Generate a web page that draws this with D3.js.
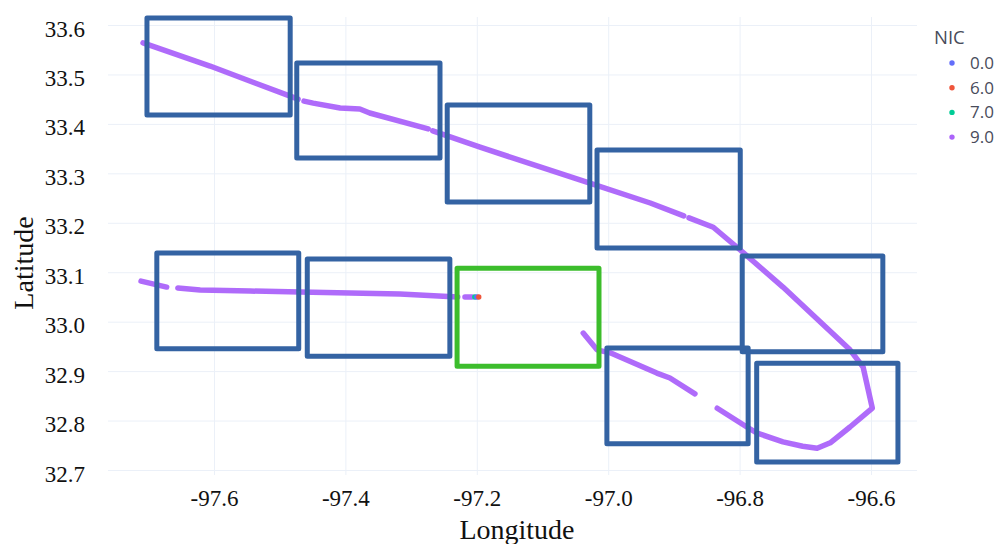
<!DOCTYPE html>
<html>
<head>
<meta charset="utf-8">
<script src="https://cdn.jsdelivr.net/npm/d3@7"></script>
<style>
  html, body { margin: 0; padding: 0; background: #fff; }
  svg { display: block; }
</style>
</head>
<body>
<svg id="chart" width="1005" height="544"></svg>
<script>
// Flight track (lon, lat) pieces; breaks mark missing reports
const northLeg1 = [[-97.708, 33.564], [-97.606, 33.517], [-97.480, 33.454], [-97.472, 33.450]];
const northLeg2 = [[-97.463, 33.446], [-97.449, 33.442], [-97.408, 33.432], [-97.378, 33.430],
                   [-97.363, 33.422], [-97.274, 33.390]];
const northLeg3 = [[-97.267, 33.386], [-97.195, 33.353], [-97.028, 33.280], [-96.936, 33.240],
                   [-96.885, 33.214]];
const eastLeg = [[-96.877, 33.210], [-96.840, 33.191], [-96.799, 33.145], [-96.734, 33.070],
                 [-96.632, 32.943], [-96.612, 32.908], [-96.598, 32.825], [-96.632, 32.787],
                 [-96.662, 32.755], [-96.682, 32.744], [-96.704, 32.748], [-96.734, 32.757],
                 [-96.774, 32.775], [-96.789, 32.787], [-96.834, 32.825]];
const returnLeg = [[-96.868, 32.854], [-96.906, 32.886], [-96.926, 32.896], [-96.997, 32.937],
                   [-97.017, 32.943], [-97.038, 32.977]];
const westLeg1 = [[-97.711, 33.082], [-97.672, 33.070]];
const westLeg2 = [[-97.655, 33.068], [-97.621, 33.064], [-97.545, 33.062], [-97.469, 33.060],
                  [-97.317, 33.056], [-97.229, 33.050]];
const westLeg3 = [[-97.218, 33.050], [-97.207, 33.050]];
const trackLegs = [northLeg1, northLeg2, northLeg3, eastLeg, returnLeg, westLeg1, westLeg2, westLeg3];
const trackNic = [9, 9, 9, 9, 9, 9, 9, 9];

// Single reports with a different integrity category
const spotLon = [-97.203, -97.200, -97.197];
const spotLat = [33.050, 33.050, 33.050];
const spotNic = [7, 0, 6];

// Legend categories
const nicLevels = [0, 6, 7, 9];
const nicColors = ["#636efa", "#EF553B", "#00cc96", "#ab63fa"];

// Study boxes: [west lon, east lon, south lat, north lat]
const boxBounds = [
  [-97.702, -97.484, 33.418, 33.614],
  [-97.474, -97.256, 33.331, 33.523],
  [-97.245, -97.028, 33.242, 33.438],
  [-97.017, -96.799, 33.149, 33.347],
  [-96.796, -96.582, 32.939, 33.133],
  [-97.687, -97.471, 32.945, 33.139],
  [-97.458, -97.241, 32.930, 33.127],
  [-97.230, -97.014, 32.910, 33.108],
  [-97.002, -96.787, 32.753, 32.947],
  [-96.774, -96.559, 32.716, 32.916]
];
const boxKind = ["plain", "plain", "plain", "plain", "plain", "plain", "plain", "focus", "plain", "plain"];

// Axis ticks
const lonTicks = [-97.6, -97.4, -97.2, -97.0, -96.8, -96.6];
const latTicks = [32.7, 32.8, 32.9, 33.0, 33.1, 33.2, 33.3, 33.4, 33.5, 33.6];

const svg = d3.select("#chart");
const plot = { left: 108, right: 917, top: 17, bottom: 475 };

const x = d3.scaleLinear().domain([-97.7613, -96.5300]).range([plot.left, plot.right]);
const y = d3.scaleLinear().domain([32.6899, 33.6162]).range([plot.bottom, plot.top]);
const color = d3.scaleOrdinal().domain(nicLevels).range(nicColors);
const fmt = d => d.toFixed(1);   // plain hyphen-minus

// Grid
const grid = svg.append("g").attr("class", "grid");
grid.append("g")
  .attr("transform", `translate(0,${plot.bottom})`)
  .call(d3.axisBottom(x).tickValues(lonTicks).tickSize(-(plot.bottom - plot.top)).tickFormat(""))
  .call(g => g.select(".domain").remove());
grid.append("g")
  .attr("transform", `translate(${plot.left},0)`)
  .call(d3.axisLeft(y).tickValues(latTicks).tickSize(-(plot.right - plot.left)).tickFormat(""))
  .call(g => g.select(".domain").remove());
grid.selectAll("line").attr("stroke", "#ebf0f8").attr("stroke-width", 1);

// Tick labels
const labelFont = "'Liberation Serif', 'Times New Roman', serif";
const xAxis = svg.append("g")
  .attr("transform", `translate(0,${plot.bottom})`)
  .call(d3.axisBottom(x).tickValues(lonTicks).tickSize(0).tickFormat(fmt));
xAxis.select(".domain").remove();
xAxis.selectAll("text")
  .attr("y", 31).attr("dy", 0)
  .attr("font-family", labelFont).attr("font-size", 23).attr("fill", "#111");

const yAxis = svg.append("g")
  .attr("transform", `translate(${plot.left},0)`)
  .call(d3.axisLeft(y).tickValues(latTicks).tickSize(0).tickFormat(fmt));
yAxis.select(".domain").remove();
yAxis.selectAll("text")
  .attr("x", -23).attr("y", 11).attr("dy", 0)
  .attr("font-family", labelFont).attr("font-size", 23).attr("fill", "#111");

// Axis titles
svg.append("text")
  .attr("x", 517).attr("y", 539)
  .attr("text-anchor", "middle")
  .attr("font-family", labelFont).attr("font-size", 28).attr("fill", "#111")
  .text("Longitude");
svg.append("text")
  .attr("transform", "translate(33,263) rotate(-90)")
  .attr("text-anchor", "middle")
  .attr("font-family", labelFont).attr("font-size", 28).attr("fill", "#111")
  .text("Latitude");

// Track
const line = d3.line().x(d => x(d[0])).y(d => y(d[1])).curve(d3.curveLinear);
svg.append("g").attr("class", "track")
  .selectAll("path")
  .data(trackLegs)
  .join("path")
  .attr("d", line)
  .attr("fill", "none")
  .attr("stroke", (d, i) => color(trackNic[i]))
  .attr("stroke-width", 5.5)
  .attr("stroke-linecap", "round")
  .attr("stroke-linejoin", "round")
  .attr("opacity", 0.95);

svg.append("g").attr("class", "spots")
  .selectAll("circle")
  .data(spotLon)
  .join("circle")
  .attr("cx", d => x(d))
  .attr("cy", (d, i) => y(spotLat[i]))
  .attr("r", 2.7)
  .attr("fill", (d, i) => color(spotNic[i]));

// Study boxes
svg.append("g").attr("class", "boxes")
  .selectAll("rect")
  .data(boxBounds)
  .join("rect")
  .attr("x", d => x(d[0]))
  .attr("y", d => y(d[3]))
  .attr("width", d => x(d[1]) - x(d[0]))
  .attr("height", d => y(d[2]) - y(d[3]))
  .attr("fill", "none")
  .attr("stroke", (d, i) => boxKind[i] === "focus" ? "#3cbd2c" : "#3463a3")
  .attr("stroke-width", 5)
  .attr("stroke-linejoin", "round");

// Legend
const legendFont = "'Open Sans', 'Noto Sans', sans-serif";
const legend = svg.append("g").attr("transform", "translate(934,0)");
legend.append("text")
  .attr("x", 0).attr("y", 44)
  .attr("font-family", legendFont).attr("font-size", 18.5).attr("fill", "#484b5a")
  .text("NIC");
const item = legend.selectAll("g.item")
  .data(nicLevels)
  .join("g")
  .attr("class", "item")
  .attr("transform", (d, i) => `translate(0,${63 + i * 24.7})`);
item.append("circle").attr("cx", 18).attr("cy", 0).attr("r", 2.7).attr("fill", d => color(d));
item.append("text")
  .attr("x", 36).attr("y", 6)
  .attr("font-family", legendFont).attr("font-size", 17).attr("fill", "#484b5a")
  .text(d => fmt(d));
</script>
</body>
</html>
